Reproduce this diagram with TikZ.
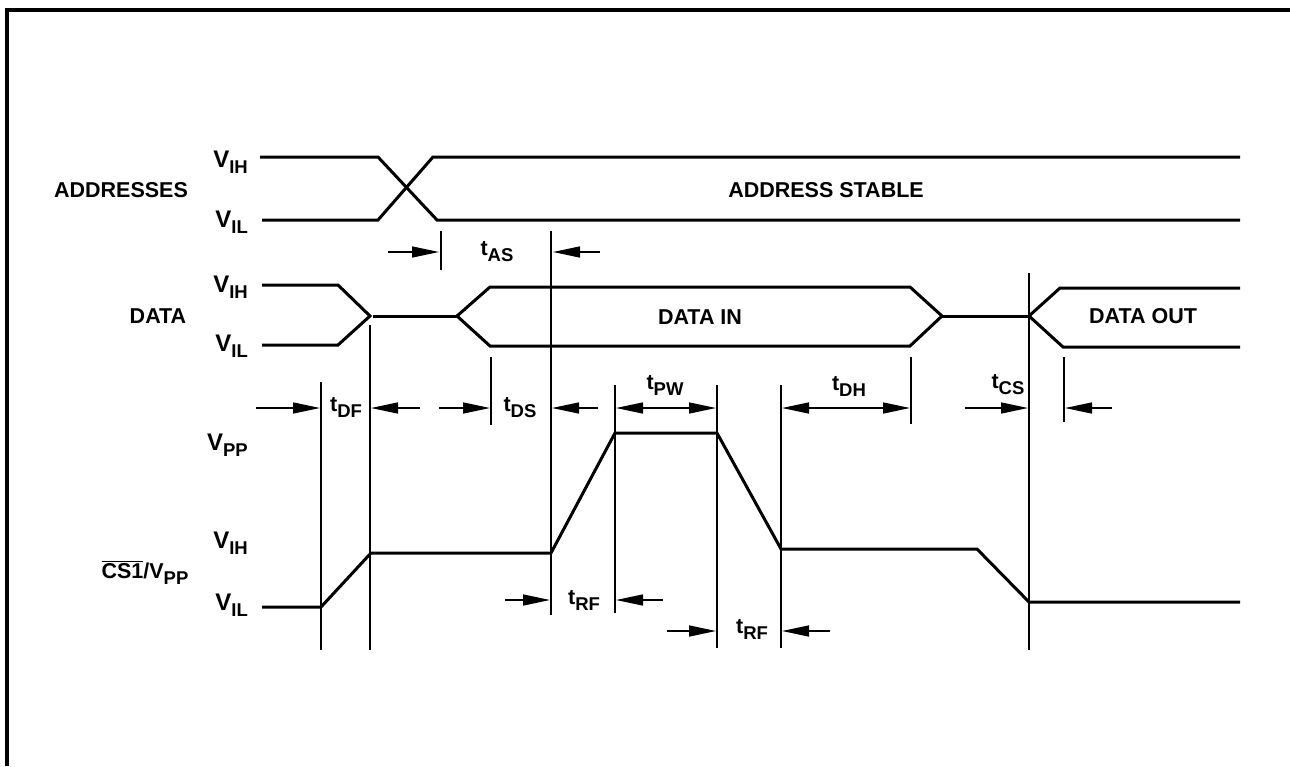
\documentclass[tikz,border=0pt]{standalone}
\usepackage{fontspec}
\setmainfont{Liberation Sans}
\usetikzlibrary{arrows.meta}
\newcommand{\Vlev}[1]{V\raisebox{-6pt}{\fontsize{18.5}{18.5}\selectfont #1}}
\newcommand{\Tsub}[1]{t\raisebox{-6pt}{\fontsize{18.5}{18.5}\selectfont #1}}
\begin{document}
\begin{tikzpicture}[x=1pt,y=-1pt,
  sig/.style={line width=3pt},
  timeline/.style={line width=1.6pt},
  dimarrow/.style={line width=1.5pt,-{Triangle[length=27pt,width=11pt]}},
  dimboth/.style={line width=1.5pt,{Triangle[length=27pt,width=11pt]}-{Triangle[length=27pt,width=11pt]}},
  lbl/.style={inner sep=0pt,font=\bfseries\fontsize{21.5}{21.5}\selectfont},
  lev/.style={inner sep=0pt,anchor=base east,font=\bfseries\fontsize{24}{24}\selectfont}]
\useasboundingbox (0,0) rectangle (1290,766);
\draw[line width=4pt] (6.5,766) -- (6.5,9.5) -- (1290,9.5);
% signal labels
\node[lbl] (addr) at (121,190) {ADDRESSES};
\node[lbl] (data) at (158,316) {DATA};
\node[lbl,anchor=base] (cs) at (145,578) {$\overline{\mbox{CS1}}$/\Vlev{PP}};
\node[lev] (aih) at (248,167) {\Vlev{IH}};
\node[lev] (ail) at (248,227) {\Vlev{IL}};
\node[lev] (dih) at (248,292) {\Vlev{IH}};
\node[lev] (dil) at (248,351) {\Vlev{IL}};
\node[lev] (vpp) at (248,450) {\Vlev{PP}};
\node[lev] (cih) at (248,548) {\Vlev{IH}};
\node[lev] (cil) at (248,610) {\Vlev{IL}};
% addresses
\draw[sig] (260,157) -- (378,157) -- (437,220) -- (1240,220);
\draw[sig] (262,220) -- (378,220) -- (433,157) -- (1240,157);
\node[lbl] (stable) at (826,190) {ADDRESS STABLE};
% data
\draw[sig] (262,285) -- (338,285) -- (370,316) -- (338,345) -- (262,345);
\draw[sig] (373,316) -- (457,316);
\draw[sig] (490,287) -- (457,316) -- (490,346) -- (910,346) -- (942,316) -- (910,287) -- cycle;
\draw[sig] (942,316) -- (1029,316);
\draw[sig] (1240,288) -- (1060,288) -- (1029,316) -- (1063,347) -- (1240,347);
\node[lbl] (din) at (700,317) {DATA IN};
\node[lbl] (dout) at (1143,316) {DATA OUT};
% CS1/VPP
\draw[sig] (262,607) -- (321,607) -- (371,553) -- (551,553) -- (615,433) -- (717,433)
  -- (781,549) -- (977,549) -- (1029,602) -- (1240,602);
% time marks
\draw[timeline] (321,382) -- (321,650);
\draw[timeline] (370,325) -- (370,650);
\draw[timeline] (441,231) -- (441,270);
\draw[timeline] (551,231) -- (551,615);
\draw[timeline] (491,357) -- (491,425);
\draw[timeline] (615,385) -- (615,613);
\draw[timeline] (717,385) -- (717,648);
\draw[timeline] (781,385) -- (781,648);
\draw[timeline] (911,357) -- (911,424);
\draw[timeline] (1029,273) -- (1029,650);
\draw[timeline] (1064,357) -- (1064,422);
% timing arrows
\draw[dimarrow] (388,252) -- (439,252);
\draw[dimarrow] (600,252) -- (553,252);
\node[lbl] (tas) at (497,252) {\Tsub{AS}};
\draw[dimarrow] (256,408) -- (320,408);
\draw[dimarrow] (420,408) -- (371,408);
\node[lbl] (tdf) at (346,407) {\Tsub{DF}};
\draw[dimarrow] (439,408) -- (490,408);
\draw[dimarrow] (598,408) -- (552,408);
\node[lbl] (tds) at (520,408) {\Tsub{DS}};
\draw[dimboth] (616,408) -- (716,408);
\node[lbl] (tpw) at (665,385) {\Tsub{PW}};
\draw[dimboth] (782,408) -- (910,408);
\node[lbl] (tdh) at (849,386) {\Tsub{DH}};
\draw[dimarrow] (965,408) -- (1028,408);
\draw[dimarrow] (1112,408) -- (1065,408);
\node[lbl] (tcs) at (1008,385) {\Tsub{CS}};
\draw[dimarrow] (505,600) -- (550,600);
\draw[dimarrow] (663,600) -- (616,600);
\node[lbl] (trf) at (584,600) {\Tsub{RF}};
\draw[dimarrow] (667,631) -- (716,631);
\draw[dimarrow] (830,631) -- (782,631);
\node[lbl] (trf2) at (752,629) {\Tsub{RF}};
\end{tikzpicture}
\end{document}
